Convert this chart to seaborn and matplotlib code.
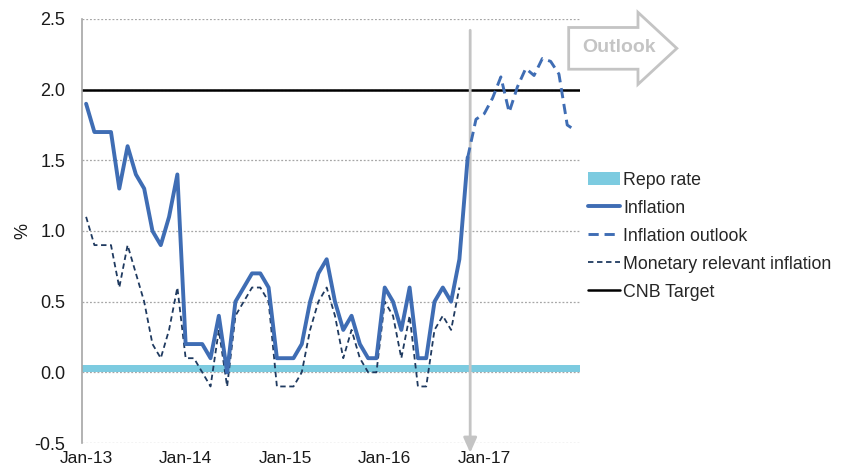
import numpy as np
import pandas as pd
import matplotlib.pyplot as plt
import seaborn as sns
from matplotlib.lines import Line2D
from matplotlib.patches import Patch, FancyArrow

# monthly data, Jan-13 .. Dec-17
month_labels = pd.date_range("2013-01-01", "2017-12-01", freq="MS").strftime("%b-%y").tolist()

inflation = [
    1.9, 1.7, 1.7, 1.7, 1.3, 1.6, 1.4, 1.3, 1.0, 0.9, 1.1, 1.4,
    0.2, 0.2, 0.2, 0.1, 0.4, 0.0, 0.5, 0.6, 0.7, 0.7, 0.6, 0.1,
    0.1, 0.1, 0.2, 0.5, 0.7, 0.8, 0.5, 0.3, 0.4, 0.2, 0.1, 0.1,
    0.6, 0.5, 0.3, 0.6, 0.1, 0.1, 0.5, 0.6, 0.5, 0.8, 1.52,
]
# outlook starts at Nov-16
outlook_start = "Nov-16"
inflation_outlook = [1.52, 1.79, 1.83, 1.94, 2.09, 1.84, 2.02, 2.15, 2.10, 2.22, 2.20, 2.11, 1.75, 1.71]
monetary_relevant = [
    1.1, 0.9, 0.9, 0.9, 0.6, 0.9, 0.7, 0.5, 0.2, 0.1, 0.3, 0.6,
    0.1, 0.1, 0.0, -0.1, 0.3, -0.1, 0.4, 0.5, 0.6, 0.6, 0.5, -0.1,
    -0.1, -0.1, 0.0, 0.3, 0.5, 0.6, 0.4, 0.1, 0.3, 0.1, 0.0, 0.0,
    0.5, 0.4, 0.1, 0.4, -0.1, -0.1, 0.3, 0.4, 0.3, 0.6,
]
repo_rate = 0.05
cnb_target = 2.0
xtick_labels = ["Jan-13", "Jan-14", "Jan-15", "Jan-16", "Jan-17"]
yticks = [-0.5, 0.0, 0.5, 1.0, 1.5, 2.0, 2.5]

C_INFL = "#3f6db4"
C_REPO = "#7ccbe0"
C_MRI = "#1f3a60"
C_GRID = "#a6a6a6"

sns.set_style("white")
plt.rcParams["font.family"] = ["Liberation Sans", "DejaVu Sans"]
plt.rcParams["axes.unicode_minus"] = False

fig = plt.figure(figsize=(8.45, 4.74), dpi=100)
ax = fig.add_axes([0.097, 0.0654, 0.589, 0.8946])

n = len(month_labels)
x_all = np.arange(n)
i0 = month_labels.index(outlook_start)

df_infl = pd.DataFrame({"m": x_all[: len(inflation)], "v": inflation})
df_out = pd.DataFrame({"m": x_all[i0 : i0 + len(inflation_outlook)], "v": inflation_outlook})
df_mri = pd.DataFrame({"m": x_all[: len(monetary_relevant)], "v": monetary_relevant})

# gridlines
for yv in yticks:
    ax.axhline(yv, color=C_GRID, lw=0.9, ls=(0, (1.5, 1.5)), zorder=0)

# repo rate area
ax.axhspan(0, repo_rate, color=C_REPO, lw=0, zorder=1)

ax.axhline(cnb_target, color="black", lw=1.8, zorder=2)

sns.lineplot(data=df_mri, x="m", y="v", ax=ax, color=C_MRI, lw=1.3,
             linestyle=(0, (3, 2)), zorder=3)
sns.lineplot(data=df_infl, x="m", y="v", ax=ax, color=C_INFL, lw=2.8, zorder=4)
sns.lineplot(data=df_out, x="m", y="v", ax=ax, color=C_INFL, lw=2.1,
             linestyle=(0, (3.5, 2)), zorder=4)

# vertical divider arrow
ax.annotate("", xy=(i0 + 0.3, -0.57), xytext=(i0 + 0.3, 2.42),
            xycoords="data", annotation_clip=False,
            arrowprops=dict(arrowstyle="-|>,head_length=0.9,head_width=0.4",
                            color="#c4c4c4", lw=2.0, shrinkA=0, shrinkB=0))

ax.set_xlim(-0.5, n - 0.5)
ax.set_ylim(-0.5, 2.5)
ax.set_yticks(yticks)
ax.set_yticklabels([f"{v:.1f}" for v in yticks])
ax.set_xticks([month_labels.index(l) for l in xtick_labels])
ax.set_xticklabels(xtick_labels)
ax.tick_params(axis="y", length=0, labelsize=13, colors="#1a1a1a", pad=12)
ax.tick_params(axis="x", length=0, labelsize=12.5, colors="#1a1a1a", pad=6)
ax.set_xlabel("")
ax.set_ylabel("%", fontsize=13, color="#1a1a1a", labelpad=2)

for s in ["top", "right", "bottom"]:
    ax.spines[s].set_visible(False)
ax.spines["left"].set_color(C_GRID)
ax.spines["left"].set_linewidth(1.2)

# "Outlook" block arrow
arrow = FancyArrow(0.673, 0.898, 0.128, 0.0, width=0.088, head_width=0.152,
                   head_length=0.046, length_includes_head=True,
                   transform=fig.transFigure, facecolor="white",
                   edgecolor="#c4c4c4", lw=2.0, zorder=5)
fig.patches.append(arrow)
fig.text(0.732, 0.899, "Outlook", ha="center", va="center", fontsize=14,
         fontweight="bold", color="#c4c4c4", zorder=6)

handles = [
    Patch(facecolor=C_REPO, edgecolor="none"),
    Line2D([], [], color=C_INFL, lw=2.8),
    Line2D([], [], color=C_INFL, lw=2.1, ls=(0, (3.5, 2))),
    Line2D([], [], color=C_MRI, lw=1.3, ls=(0, (3, 2))),
    Line2D([], [], color="black", lw=1.8),
]
labels = ["Repo rate", "Inflation", "Inflation outlook",
          "Monetary relevant inflation", "CNB Target"]
fig.legend(handles, labels, loc="center left", bbox_to_anchor=(0.688, 0.502),
           frameon=False, fontsize=12.8, handlelength=1.8, handletextpad=0.15,
           labelspacing=0.62, borderaxespad=0)

fig.savefig("out.png", dpi=100)
